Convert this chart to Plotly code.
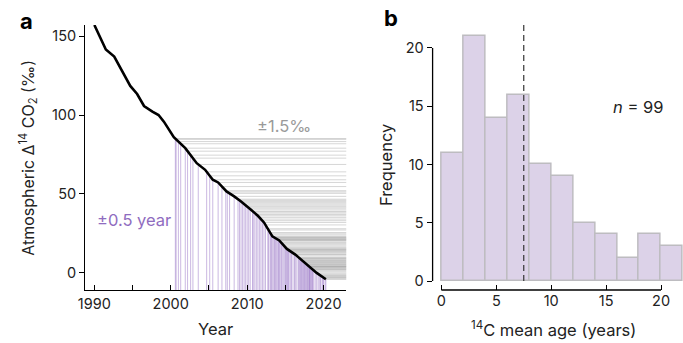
import plotly.graph_objects as go

# ---------------- Data ----------------
# Panel a: atmospheric D14C curve
curve_year = [1990.0, 1991.5, 1992.6, 1994.1, 1994.7, 1995.6, 1996.5, 1997.6, 1998.4, 1999.1,
              2000.4, 2001.9, 2003.4, 2004.5, 2005.5, 2006.2, 2007.3, 2008.3, 2009.2, 2010.5,
              2011.4, 2012.2, 2013.3, 2014.2, 2015.2, 2016.3, 2017.8, 2019.1, 2020.3]
curve_val = [157.0, 141.5, 137.0, 123.3, 118.4, 113.3, 105.7, 102.2, 100.0, 95.8,
             86.0, 79.0, 69.5, 65.3, 59.0, 57.3, 51.6, 48.5, 45.3, 40.0,
             36.2, 32.0, 23.2, 20.6, 15.2, 11.6, 5.3, 0.0, -4.0]

# Panel a: sample years and their D14C values (99 samples)
sample_year = [2000.6, 2000.7, 2002.6,
               2001.0, 2001.3, 2001.9, 2002.2,
               2002.9, 2003.6,
               2004.7, 2005.1, 2005.5, 2006.2,
               2006.7, 2007.2, 2007.4, 2007.7, 2008.3,
               2008.8, 2009.0, 2009.2, 2009.4, 2009.6, 2009.8, 2010.0, 2010.2, 2010.4,
               2010.7, 2010.8, 2011.0, 2011.2, 2011.4, 2011.6, 2011.8, 2012.0, 2012.2, 2012.4,
               2012.7, 2012.8, 2013.0, 2013.1, 2013.2, 2013.35, 2013.5, 2013.6, 2013.7, 2013.85,
               2014.0, 2014.1, 2014.2, 2014.3, 2014.45, 2014.55,
               2014.7, 2014.85, 2015.0, 2015.1, 2015.2, 2015.3, 2015.4, 2015.5, 2015.7, 2015.8,
               2016.0, 2016.2, 2016.3, 2016.5,
               2016.7, 2016.8, 2016.9, 2017.0, 2017.1, 2017.2, 2017.3, 2017.4, 2017.5, 2017.6,
               2017.7, 2017.8, 2017.9, 2018.0, 2018.1, 2018.15, 2018.2, 2018.3, 2018.4, 2018.5,
               2018.55,
               2018.7, 2018.9, 2019.1, 2019.3, 2019.5, 2019.6, 2019.8, 2019.9, 2020.0, 2020.2,
               2020.3]
sample_val = [85.1, 84.6, 74.6,
              83.2, 81.8, 79.0, 77.1,
              72.7, 68.7,
              64.0, 61.5, 59.0, 57.3,
              54.7, 52.1, 51.3, 50.4, 48.5,
              46.7, 46.0, 45.3, 44.5, 43.7, 42.9, 42.0, 41.2, 40.4,
              39.2, 38.7, 37.9, 37.0, 36.2, 35.2, 34.1, 33.1, 32.0, 30.4,
              28.0, 27.2, 25.6, 24.8, 24.0, 23.1, 22.6, 22.3, 22.0, 21.6,
              21.2, 20.9, 20.6, 20.1, 19.3, 18.7,
              17.9, 17.1, 16.3, 15.7, 15.2, 14.9, 14.5, 14.2, 13.5, 13.2,
              12.6, 11.9, 11.6, 10.8,
              9.9, 9.5, 9.1, 8.7, 8.2, 7.8, 7.4, 7.0, 6.6, 6.1,
              5.7, 5.3, 4.9, 4.5, 4.1, 3.9, 3.7, 3.3, 2.9, 2.4,
              2.2,
              1.6, 0.8, 0.0, -0.7, -1.3, -1.7, -2.3, -2.7, -3.0, -3.7,
              -4.0]

# Panel b: histogram of 14C mean age
bin_left = [0, 2, 4, 6, 8, 10, 12, 14, 16, 18, 20]
bin_width = 2
counts = [11, 21, 14, 16, 10, 9, 5, 4, 2, 4, 3]
mean_age = 7.5
n_samples = 99

# ---------------- Figure ----------------
FONT = "Inter"
W, H = 683, 343
ML, MR, MT, MB = 0, 0, 25, 53

xa_range = [1988.8, 2023.0]
ya_range = [-10.8, 157.0]
xb_range = [-0.8, 22.0]
yb_range = [-0.77, 21.97]

fig = go.Figure()

# vertical purple lines (±0.5 year) and horizontal grey lines (±1.5‰)
for yr, v in zip(sample_year, sample_val):
    fig.add_trace(go.Scatter(x=[yr, yr], y=[ya_range[0], v], mode="lines",
                             line=dict(color="rgba(140,100,190,0.45)", width=1),
                             hoverinfo="skip", showlegend=False, xaxis="x", yaxis="y"))
for yr, v in zip(sample_year, sample_val):
    fig.add_trace(go.Scatter(x=[yr, xa_range[1]], y=[v, v], mode="lines",
                             line=dict(color="rgba(120,120,120,0.3)", width=1),
                             hoverinfo="skip", showlegend=False, xaxis="x", yaxis="y"))

fig.add_trace(go.Scatter(x=curve_year, y=curve_val, mode="lines",
                         line=dict(color="black", width=2.6),
                         showlegend=False, xaxis="x", yaxis="y"))

# histogram
fig.add_trace(go.Bar(x=[b + bin_width / 2 for b in bin_left], y=counts, width=bin_width,
                     marker=dict(color="#dcd2e8", line=dict(color="#bdbcc0", width=1.5)),
                     showlegend=False, xaxis="x2", yaxis="y2"))
fig.add_trace(go.Scatter(x=[mean_age, mean_age], y=[0, yb_range[1]], mode="lines",
                         line=dict(color="#333333", width=1.2, dash="6px,4px"),
                         showlegend=False, xaxis="x2", yaxis="y2"))

tickfont = dict(family=FONT, size=14.5, color="#222")

fig.update_layout(
    width=W, height=H, margin=dict(l=ML, r=MR, t=MT, b=MB),
    paper_bgcolor="white", plot_bgcolor="white",
    font=dict(family=FONT, size=14, color="#222"),
    bargap=0,
    xaxis=dict(domain=[79 / W, 343 / W], range=xa_range, showgrid=False, zeroline=False,
               showline=True, linecolor="black", linewidth=1.3,
               tickmode="array", tickvals=[1990, 2000, 2010, 2020],
               ticks="inside", ticklen=5, tickwidth=1.2, tickcolor="black", tickfont=tickfont,
               minor=dict(tickmode="array", tickvals=[1995, 2005, 2015], ticks="inside",
                          ticklen=5, tickwidth=1.2, tickcolor="black", showgrid=False)),
    yaxis=dict(domain=[0, 1], range=ya_range, showgrid=False, zeroline=False,
               showline=True, linecolor="black", linewidth=1.3,
               tickmode="array", tickvals=[0, 50, 100, 150],
               ticks="outside", ticklen=5, tickwidth=1.2, tickcolor="black", tickfont=tickfont),
    xaxis2=dict(domain=[430 / W, 1.0], range=xb_range, showgrid=False, zeroline=False,
                showline=False, anchor="y2",
                tickmode="array", tickvals=[0, 5, 10, 15, 20],
                ticks="inside", ticklen=5, tickwidth=1.2, tickcolor="black", tickfont=tickfont),
    yaxis2=dict(domain=[0, 1], range=yb_range, showgrid=False, zeroline=False,
                showline=False, anchor="x2",
                tickmode="array", tickvals=[0, 5, 10, 15, 20],
                ticks="outside", ticklen=5, tickwidth=1.2, tickcolor="black", tickfont=tickfont),
    shapes=[
        dict(type="line", xref="x2 domain", yref="y2", x0=0, x1=0, y0=0, y1=20,
             line=dict(color="black", width=1.3)),
        dict(type="line", xref="x2", yref="y2 domain", x0=0, x1=20, y0=0, y1=0,
             line=dict(color="black", width=1.3)),
    ],
)

def py(px):
    return (H - MB - px) / (H - MT - MB)

ann = [
    dict(text="<b>a</b>", x=20 / W, y=py(21), xref="paper", yref="paper",
         font=dict(family=FONT, size=22, color="black")),
    dict(text="<b>b</b>", x=388 / W, y=py(18), xref="paper", yref="paper",
         font=dict(family=FONT, size=22, color="black")),
    dict(text="Atmospheric Δ<sup>14</sup> CO<sub>2</sub> (‰)", x=21 / W, y=py(158),
         xref="paper", yref="paper", textangle=-90, font=dict(family=FONT, size=16, color="#222")),
    dict(text="Year", x=211 / W, y=py(329), xref="paper", yref="paper",
         font=dict(family=FONT, size=16.5, color="#222")),
    dict(text="Frequency", x=383 / W, y=py(165), xref="paper", yref="paper", textangle=-90,
         font=dict(family=FONT, size=16.5, color="#222")),
    dict(text="<sup>14</sup>C mean age (years)", x=552 / W, y=py(329), xref="paper", yref="paper",
         font=dict(family=FONT, size=16.5, color="#222")),
    dict(text="±1.5‰", x=2014.8, y=93, xref="x", yref="y",
         font=dict(family=FONT, size=16.5, color="#9a9a9a")),
    dict(text="±0.5 year", x=1995.2, y=33.5, xref="x", yref="y",
         font=dict(family=FONT, size=16.5, color="#8f6cc0")),
    dict(text="<i>n</i> = %d" % n_samples, x=17.9, y=14.9, xref="x2", yref="y2",
         font=dict(family=FONT, size=16.5, color="#222")),
]
for a in ann:
    a.setdefault("showarrow", False)
    a.setdefault("xanchor", "center")
    a.setdefault("yanchor", "middle")
fig.update_layout(annotations=ann)

fig.write_html("out.html", config={"displayModeBar": False},
               post_script="document.body.style.margin='0';document.body.style.padding='0';"
                           "document.documentElement.style.overflow='hidden';")
